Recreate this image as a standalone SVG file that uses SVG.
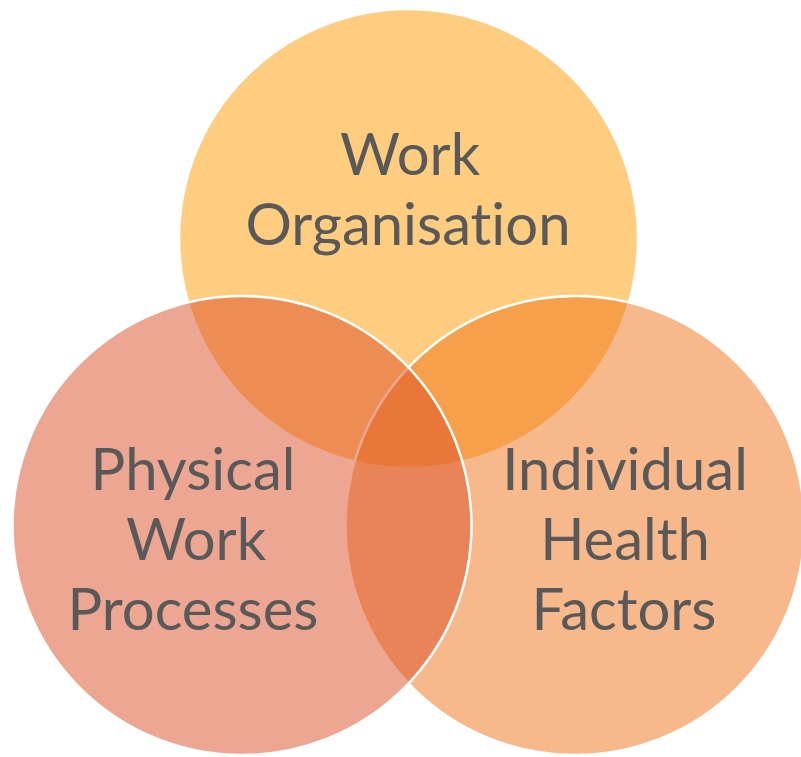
<svg xmlns="http://www.w3.org/2000/svg" width="801" height="757" viewBox="0 0 801 757">
  <style>
    .c { stroke: #FFFFFF; stroke-width: 2.5; fill-opacity: 0.5; }
    .t { font-family: Lato, "Open Sans", "Liberation Sans", sans-serif; font-size: 58px; fill: #595959; text-anchor: middle; font-variant-ligatures: none; font-feature-settings: "liga" 0, "clig" 0; }
  </style>
  <rect width="801" height="757" fill="#FFFFFF"/>
  <g id="work-organisation-circle">
    <circle class="c" cx="408.5" cy="238.5" r="229.5" fill="#FD9B01"/>
  </g>
  <g id="individual-health-factors-circle">
    <circle class="c" cx="575" cy="525.5" r="229.5" fill="#EF7317"/>
  </g>
  <g id="physical-work-processes-circle">
    <circle class="c" cx="242" cy="525.5" r="229.5" fill="#DB4D25"/>
  </g>
  <g id="work-organisation-label">
    <text class="t" x="410" y="175">Work</text>
    <text class="t" x="408" y="245">Organisation</text>
  </g>
  <g id="physical-work-processes-label">
    <text class="t" x="193" y="490">Physical</text>
    <text class="t" x="196" y="560">Work</text>
    <text class="t" x="193" y="630">Processes</text>
  </g>
  <g id="individual-health-factors-label">
    <text class="t" x="625" y="490">Individual</text>
    <text class="t" x="625" y="560">Health</text>
    <text class="t" x="624" y="630">Factors</text>
  </g>
</svg>
